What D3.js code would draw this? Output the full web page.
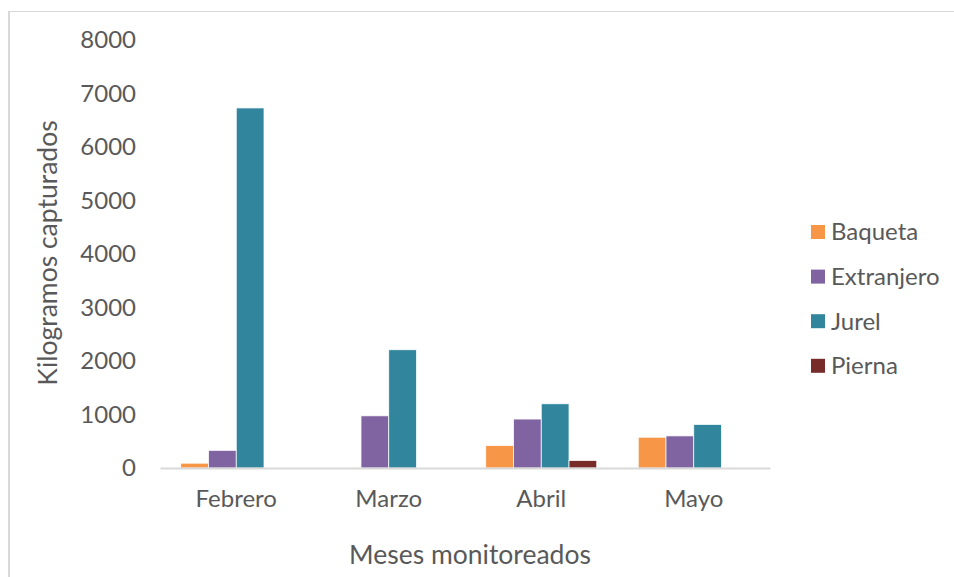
<!DOCTYPE html>
<html>
<head>
<meta charset="utf-8">
<script src="https://cdn.jsdelivr.net/npm/d3@7"></script>
<style>
  body { margin: 0; background: #fff; }
  text { font-family: Lato, "Open Sans", sans-serif; fill: #595959; }
</style>
</head>
<body>
<div id="chart"></div>
<script>
// data
var months = ["Febrero", "Marzo", "Abril", "Mayo"];
var species = ["Baqueta", "Extranjero", "Jurel", "Pierna"];
var baqueta = [90, 0, 420, 575];
var extranjero = [330, 975, 915, 600];
var jurel = [6730, 2210, 1200, 815];
var pierna = [0, 0, 140, 0];
var yTicks = [0, 1000, 2000, 3000, 4000, 5000, 6000, 7000, 8000];
var colors = ["#F79646", "#8064A2", "#31859C", "#772C2A"];

var width = 954, height = 577;
var plotLeft = 160, plotRight = 770, plotTop = 40, plotBottom = 468;

var svg = d3.select("#chart").append("svg")
  .attr("width", width)
  .attr("height", height);

// chart frame (cut off at right and bottom)
svg.append("rect")
  .attr("x", 8.5).attr("y", 11.5)
  .attr("width", 1000).attr("height", 1000)
  .attr("fill", "none")
  .attr("stroke", "#d9d9d9")
  .attr("stroke-width", 1);
svg.append("line")
  .attr("x1", 9).attr("x2", 9).attr("y1", 11).attr("y2", height)
  .attr("stroke", "#d9d9d9").attr("stroke-width", 2);

var series = [baqueta, extranjero, jurel, pierna];
var table = months.map(function(m, i) {
  var row = { month: m };
  species.forEach(function(s, j) { row[s] = series[j][i]; });
  return row;
});

var x0 = d3.scaleBand().domain(months).range([plotLeft, plotRight]).padding(0);
var x1 = d3.scaleBand().domain(species)
  .range([x0.bandwidth() * 0.136, x0.bandwidth() * 0.864]);
var y = d3.scaleLinear().domain([0, 8000]).range([plotBottom, plotTop]);
var color = d3.scaleOrdinal().domain(species).range(colors);

// y axis labels (no line)
var yAxis = svg.append("g")
  .attr("transform", "translate(136,0)")
  .call(d3.axisLeft(y).tickValues(yTicks).tickSize(0).tickPadding(0).tickFormat(d3.format("d")));
yAxis.select(".domain").remove();
yAxis.selectAll("text").style("font-size", "24px").attr("fill", "#595959");

// bars
svg.append("g").selectAll("g")
  .data(table)
  .enter().append("g")
    .attr("transform", function(d) { return "translate(" + x0(d.month) + ",0)"; })
  .selectAll("rect")
  .data(function(d) { return species.map(function(s) { return { key: s, value: d[s] }; }); })
  .enter().append("rect")
    .attr("x", function(d) { return x1(d.key); })
    .attr("width", x1.bandwidth())
    .attr("y", function(d) { return y(d.value); })
    .attr("height", function(d) { return y(0) - y(d.value); })
    .attr("fill", function(d) { return color(d.key); })
    .attr("stroke", "#fff")
    .attr("stroke-width", 0.75);

// x axis
var xAxis = svg.append("g")
  .attr("transform", "translate(0," + plotBottom + ")")
  .call(d3.axisBottom(x0).tickSize(0).tickPadding(22));
xAxis.select(".domain").attr("stroke", "#d9d9d9").attr("stroke-width", 2);
xAxis.selectAll("text").style("font-size", "24px").attr("fill", "#595959");

// axis titles
svg.append("text")
  .attr("text-anchor", "middle")
  .attr("transform", "translate(57,253) rotate(-90)")
  .style("font-size", "26.5px")
  .text("Kilogramos capturados");

svg.append("text")
  .attr("text-anchor", "middle")
  .attr("x", 470).attr("y", 564)
  .style("font-size", "26.5px")
  .text("Meses monitoreados");

// legend
var legend = svg.append("g").selectAll("g")
  .data(species)
  .enter().append("g")
    .attr("transform", function(d, i) { return "translate(811," + (225 + i * 44.6) + ")"; });
legend.append("rect")
  .attr("width", 14).attr("height", 14)
  .attr("fill", function(d) { return color(d); });
legend.append("text")
  .attr("x", 20).attr("y", 7)
  .attr("dy", "0.35em")
  .style("font-size", "24px")
  .text(function(d) { return d; });
</script>
</body>
</html>
